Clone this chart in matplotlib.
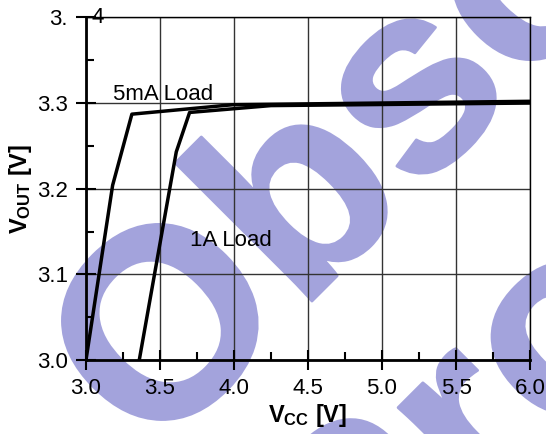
import numpy as np
import matplotlib
matplotlib.use('Agg')
import matplotlib.pyplot as plt
import matplotlib.patheffects as pe
from matplotlib.ticker import MultipleLocator

plt.rcParams['font.family'] = 'Liberation Sans'
plt.rcParams['mathtext.fontset'] = 'custom'
plt.rcParams['mathtext.rm'] = 'Liberation Sans'
plt.rcParams['mathtext.bf'] = 'Liberation Sans:bold'

# data
vcc_5ma = [3.0, 3.18, 3.31, 3.99, 6.0]
vout_5ma = [3.0, 3.204, 3.287, 3.298, 3.302]
vcc_1a = [3.36, 3.61, 3.70, 4.25, 6.0]
vout_1a = [3.0, 3.243, 3.289, 3.297, 3.300]
xticks = [3.0, 3.5, 4.0, 4.5, 5.0, 5.5, 6.0]
yticks = [3.0, 3.1, 3.2, 3.3, 3.4]
ytick_labels = ['3.0', '3.1', '3.2', '3.3', '3.']

fig = plt.figure(figsize=(5.46, 4.34), dpi=100)
ax = fig.add_axes([0.1575, 0.1705, 0.8132, 0.7895])
ax.patch.set_alpha(0)

ax.plot(vcc_5ma, vout_5ma, color='black', lw=2.5, zorder=3)
ax.plot(vcc_1a, vout_1a, color='black', lw=2.5, zorder=3)

ax.set_xlim(3.0, 6.0)
ax.set_ylim(3.0, 3.4)
ax.set_xticks(xticks)
ax.set_xticklabels(['%.1f' % v for v in xticks])
ax.set_yticks(yticks)
ax.set_yticklabels(ytick_labels)
ax.xaxis.set_minor_locator(MultipleLocator(0.25))
ax.yaxis.set_minor_locator(MultipleLocator(0.05))
ax.tick_params(which='major', direction='inout', length=14, width=1.5, labelsize=16, pad=6)
ax.tick_params(which='minor', direction='in', length=6, width=1.5)
ax.grid(True, which='major', color='#333333', lw=1)

for s in ['left', 'bottom']:
    ax.spines[s].set_linewidth(2)
for s in ['top', 'right']:
    ax.spines[s].set_linewidth(1)

ax.text(0.012, 1.0, '4', transform=ax.transAxes, fontsize=16, va='center', ha='left')
ax.text(3.52, 3.31, '5mA Load', fontsize=16, ha='center', va='center')
ax.text(3.7, 3.14, '1A Load', fontsize=16, ha='left', va='center')

ax.set_xlabel(r'$\mathbf{V_{CC}}$ [V]', fontsize=17, fontweight='bold', labelpad=2)
ax.set_ylabel(r'$\mathbf{V_{OUT}}$ [V]', fontsize=17, fontweight='bold', labelpad=2)

# watermark, behind the plot
wm = '#a3a3dc'
halo = [pe.withStroke(linewidth=2, foreground=wm)]
fig.text(0.2784, -0.0622, 'Obsolete Product(s)', rotation=45, rotation_mode='anchor',
         ha='left', va='baseline', fontsize=193, fontweight='bold',
         color=wm, zorder=-1, path_effects=halo)
fig.text(0.658, -0.49, 'Product(s)', rotation=45, rotation_mode='anchor',
         ha='left', va='baseline', fontsize=193, fontweight='bold',
         color=wm, zorder=-1, path_effects=halo)

plt.savefig('out.png', dpi=100)
